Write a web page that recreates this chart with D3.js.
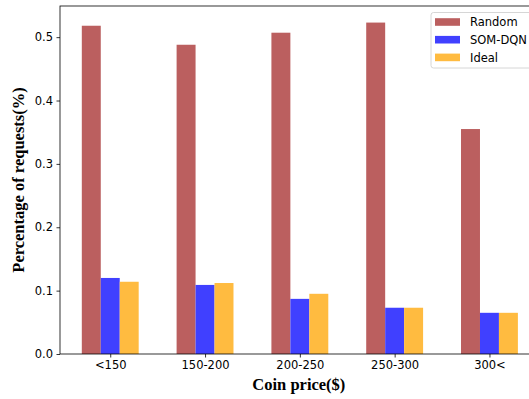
<!DOCTYPE html>
<html>
<head>
<meta charset="utf-8">
<script src="https://cdn.jsdelivr.net/npm/d3@7"></script>
<style>
  html, body { margin: 0; padding: 0; background: #fff; }
  svg { display: block; }
</style>
</head>
<body>
<svg id="chart" width="529" height="399"></svg>
<script>
// Price buckets and share of requests per method
const categories = ["<150", "150-200", "200-250", "250-300", "300<"];
const seriesNames = ["Random", "SOM-DQN", "Ideal"];
const randomValues = [0.518, 0.488, 0.507, 0.523, 0.355];
const somDqnValues = [0.120, 0.109, 0.087, 0.073, 0.065];
const idealValues  = [0.114, 0.112, 0.095, 0.073, 0.065];
const yTicks = [0.0, 0.1, 0.2, 0.3, 0.4, 0.5];

const seriesValues = [randomValues, somDqnValues, idealValues];
const colors = ["#bb5f5f", "#4040ff", "#ffbb40"];

const svg = d3.select("#chart");
const plot = { left: 60, right: 539.7, top: 6, bottom: 354 };

const barWidth = 0.2;
const maxVal = d3.max(seriesValues.flat());
const x = d3.scaleLinear()
  .domain([-0.3 - 0.23, categories.length - 1 + 0.3 + 0.23])
  .range([plot.left, plot.right]);
const y = d3.scaleLinear()
  .domain([0, maxVal * 1.05])
  .range([plot.bottom, plot.top]);

// bars: series offsets -0.2, 0, +0.2 around each category index
seriesValues.forEach((vals, s) => {
  svg.append("g").selectAll("rect")
    .data(vals)
    .join("rect")
    .attr("x", (d, i) => x(i + (s - 1) * barWidth - barWidth / 2))
    .attr("width", (d, i) => x(i + barWidth / 2) - x(i - barWidth / 2))
    .attr("y", d => y(d))
    .attr("height", d => y(0) - y(d))
    .attr("fill", colors[s]);
});

// axes
const fontTick = "DejaVu Sans, sans-serif";
const yAxis = d3.axisLeft(y).tickValues(yTicks).tickFormat(d3.format(".1f"))
  .tickSize(3.5).tickPadding(3.5);
const gy = svg.append("g").attr("transform", `translate(${plot.left},0)`).call(yAxis);
const xAxis = d3.axisBottom(x).tickValues(d3.range(categories.length))
  .tickFormat(i => categories[i]).tickSize(3.5).tickPadding(3.5);
const gx = svg.append("g").attr("transform", `translate(0,${plot.bottom})`).call(xAxis);

[gx, gy].forEach(g => {
  g.select(".domain").remove();
  g.selectAll("line").attr("stroke", "#000").attr("stroke-width", 0.8);
  g.selectAll("text").attr("font-family", fontTick).attr("font-size", 11.5).attr("fill", "#000");
});

// spines
const frame = svg.append("g").attr("stroke", "#000").attr("stroke-width", 0.8).attr("fill", "none");
frame.append("rect")
  .attr("x", plot.left).attr("y", plot.top)
  .attr("width", plot.right - plot.left).attr("height", plot.bottom - plot.top);

// axis titles
svg.append("text")
  .attr("x", (plot.left + plot.right) / 2 - 1).attr("y", 390)
  .attr("text-anchor", "middle")
  .attr("font-family", "Liberation Serif, Times New Roman, serif")
  .attr("font-weight", "bold").attr("font-size", 16.5)
  .text("Coin price($)");
svg.append("text")
  .attr("transform", `translate(24,${(plot.top + plot.bottom) / 2}) rotate(-90)`)
  .attr("text-anchor", "middle")
  .attr("font-family", "Liberation Serif, Times New Roman, serif")
  .attr("font-weight", "bold").attr("font-size", 16.5)
  .text("Percentage of requests(%)");

// legend
const legend = svg.append("g").attr("transform", "translate(431,12.5)");
legend.append("rect")
  .attr("width", 120).attr("height", 55.5).attr("rx", 2.5)
  .attr("fill", "#fff").attr("fill-opacity", 0.8)
  .attr("stroke", "#cccccc").attr("stroke-width", 0.8);
seriesNames.forEach((name, s) => {
  const cy = 9.5 + s * 17.7;
  legend.append("rect")
    .attr("x", 4).attr("y", cy - 3.8).attr("width", 25).attr("height", 7.6)
    .attr("fill", colors[s]);
  legend.append("text")
    .attr("x", 39).attr("y", cy).attr("dy", "0.36em")
    .attr("font-family", fontTick).attr("font-size", 11.5)
    .text(name);
});
</script>
</body>
</html>
